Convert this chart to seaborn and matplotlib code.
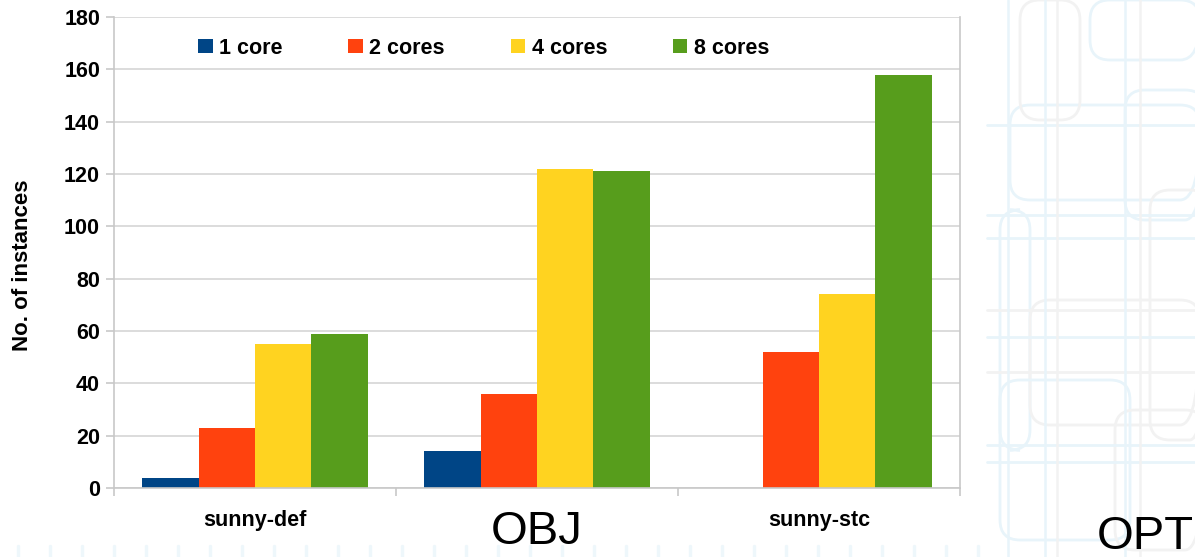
import matplotlib
matplotlib.use("Agg")
import matplotlib.pyplot as plt
from matplotlib.patches import FancyBboxPatch
import numpy as np
import pandas as pd
import seaborn as sns

# ---- data -------------------------------------------------------------
categories = ["sunny-def", "OBJ", "sunny-stc"]
core_labels = ["1 core", "2 cores", "4 cores", "8 cores"]
one_core = [4, 14, 0]
two_cores = [23, 36, 52]
four_cores = [55, 122, 74]
eight_cores = [59, 121, 158]
y_ticks = [0, 20, 40, 60, 80, 100, 120, 140, 160, 180]

colors = ["#004586", "#ff420e", "#ffd320", "#579d1c"]

series = [one_core, two_cores, four_cores, eight_cores]
df = pd.DataFrame(
    [(cat, lab, vals[i]) for lab, vals in zip(core_labels, series)
     for i, cat in enumerate(categories)],
    columns=["solver", "cores", "count"],
)

sns.set_theme(style="white")
plt.rcParams["font.family"] = ["Liberation Sans", "DejaVu Sans"]
plt.rcParams["text.color"] = "black"
plt.rcParams["axes.labelcolor"] = "black"
plt.rcParams["xtick.color"] = "black"
plt.rcParams["ytick.color"] = "black"

W, H = 1195, 557
fig = plt.figure(figsize=(W / 100, H / 100), dpi=100)
fig.patch.set_facecolor("white")

# ---- faint circuit-style slide background --------------------------------
bg = fig.add_axes([0, 0, 1, 1], zorder=-5)
bg.set_xlim(0, W)
bg.set_ylim(H, 0)
bg.axis("off")
blue = "#e8f4fa"
grey = "#f2f2f2"
boxes = [
    (1010, 105, 190, 95, blue), (1125, 90, 80, 130, blue),
    (1150, 190, 60, 250, grey), (1000, 210, 30, 240, blue),
    (1030, 300, 170, 125, grey), (1000, 380, 130, 160, blue),
    (1115, 410, 90, 140, grey), (1090, 0, 110, 60, blue),
    (1020, 0, 60, 120, grey),
]
for (bx, by, bw, bh, c) in boxes:
    bg.add_patch(FancyBboxPatch((bx, by), bw, bh,
                                boxstyle="round,pad=0,rounding_size=20",
                                fill=False, ec=c, lw=2.0))
for yy, c in [(125, blue), (215, blue), (238, blue), (310, grey),
              (337, blue), (372, grey), (445, blue), (462, blue)]:
    bg.plot([987, W], [yy, yy], color=c, lw=2.0)
for xx, c in [(1008, blue), (1045, blue), (1057, grey), (1125, blue),
              (1140, grey)]:
    bg.plot([xx, xx], [0, H], color=c, lw=1.8)
for xx in range(18, 985, 32):
    bg.plot([xx, xx], [546, H], color="#eef7fb", lw=2.5)

# ---- chart ----------------------------------------------------------------
ax = fig.add_axes([114 / W, 1 - 488 / H, 846 / W, 471 / H])
ax.set_facecolor("white")

sns.barplot(
    data=df, x="solver", y="count", hue="cores",
    order=categories, hue_order=core_labels, palette=colors,
    saturation=1, width=0.8, gap=0, linewidth=0, errorbar=None, ax=ax,
)

ax.set_xlim(-0.5, len(categories) - 0.5)
ax.set_ylim(y_ticks[0], y_ticks[-1])
ax.set_yticks(y_ticks)
ax.set_yticklabels([str(v) for v in y_ticks], fontsize=15.5, fontweight="bold")
ax.yaxis.grid(True, color="#d6d6d6", lw=1.2)
ax.set_axisbelow(True)

for side in ["left", "right", "bottom"]:
    ax.spines[side].set_color("#c8c8c8")
    ax.spines[side].set_linewidth(1.2)
ax.spines["top"].set_visible(False)

ax.tick_params(axis="y", left=True, length=6, width=1.2, color="#c8c8c8",
               pad=4, labelcolor="black")
ax.set_xticks(np.arange(len(categories)))
ax.set_xticks(np.arange(len(categories) + 1) - 0.5, minor=True)
ax.tick_params(axis="x", which="major", bottom=True, length=0, pad=16,
               labelcolor="black")
ax.tick_params(axis="x", which="minor", bottom=True, length=5.5, width=1.2,
               color="#c8c8c8")
ax.set_xticklabels(categories)
for lbl in ax.get_xticklabels():
    if lbl.get_text() == "OBJ":
        lbl.set_fontsize(34)
        lbl.set_fontweight("normal")
    else:
        lbl.set_fontsize(15.5)
        lbl.set_fontweight("bold")

ax.set_xlabel("")
ax.set_ylabel("No. of instances", fontsize=16, fontweight="bold", color="black")
ax.yaxis.set_label_coords((33 - 114) / 846, (488 - 265) / 471)

handles, labels = ax.get_legend_handles_labels()
leg = ax.legend(
    handles, labels, ncol=4, loc="center left",
    bbox_to_anchor=((198 - 114) / 846, (488 - 48) / 471),
    frameon=False, prop={"size": 15.5, "weight": "bold"},
    handlelength=0.68, handleheight=0.68, handletextpad=0.3,
    columnspacing=3.05, borderpad=0, borderaxespad=0,
)
for t in leg.get_texts():
    t.set_color("black")

fig.text(1097 / W, 1 - 537 / H, "OPT", fontsize=34, va="center", ha="left",
         color="black")

fig.savefig("out.png", dpi=100, facecolor="white")
